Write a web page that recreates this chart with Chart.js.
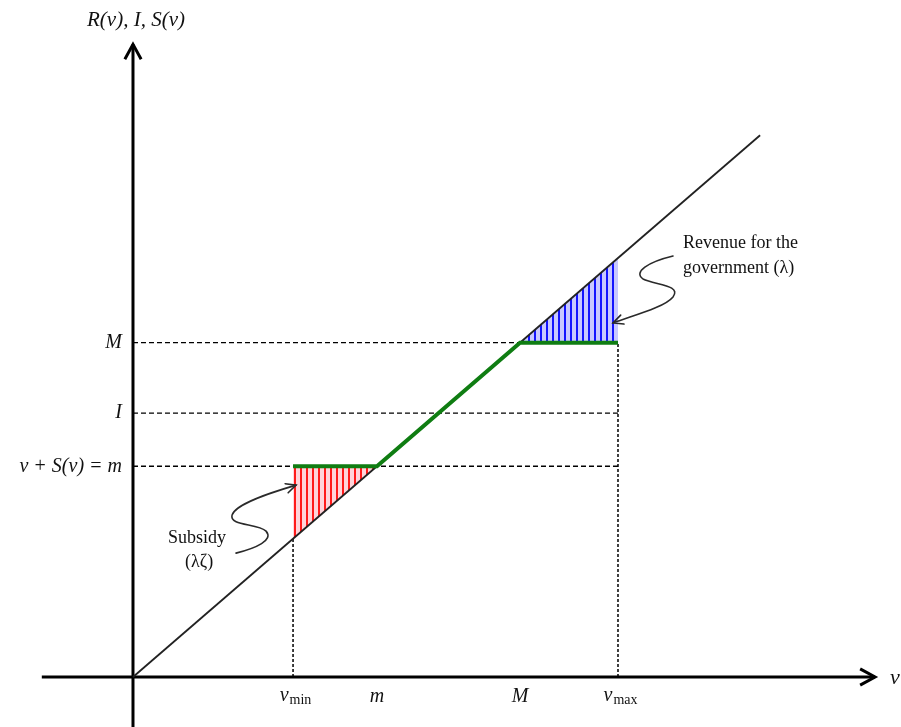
<!DOCTYPE html>
<html>
<head>
<meta charset="utf-8">
<script src="https://cdn.jsdelivr.net/npm/chart.js@4"></script>
<style>
html,body{margin:0;padding:0;background:#fff;}
#wrap{width:901px;height:727px;position:relative;}
</style>
</head>
<body>
<div id="wrap"><canvas id="c" width="901" height="727"></canvas></div>
<script>
// ---- data (model values) ----
const vMin = 3.3;      // v_min
const mVal = 5.03;     // m (lower bound)
const MVal = 7.98;     // M (upper bound)
const vMax = 10;       // v_max
const IVal = 6.3;      // I
const lineEnd = 12.93; // end of 45-degree line R(v)=v
const xAxisRange = [-1.88, 15.3];
const yAxisRange = [-1.3, 15.1];
const xScaleRange = [-2.742, 15.835];
const yScaleRange = [-1.193, 16.158];
const yTickLabels = [{v: MVal, t: 'M'}, {v: IVal, t: 'I'}, {v: mVal, t: 'v + S(v) = m'}];
const xTickLabels = [{v: vMin, t: 'v', sub: 'min'}, {v: mVal, t: 'm'}, {v: MVal, t: 'M'}, {v: vMax, t: 'v', sub: 'max'}];

function stripePattern(bg, fg) {
  const c = document.createElement('canvas');
  c.width = 6; c.height = 6;
  const g = c.getContext('2d');
  g.fillStyle = bg; g.fillRect(0, 0, 6, 6);
  g.fillStyle = fg; g.fillRect(0, 0, 2, 6);
  return g.createPattern(c, 'repeat');
}

const redPat = stripePattern('#ffd4da', '#ff1a1a');
const bluePat = stripePattern('#c8c8ff', '#1414ff');

function seg(data, opts) {
  return Object.assign({data: data, showLine: true, pointRadius: 0, borderColor: '#000', borderWidth: 1.3, fill: false}, opts);
}

const datasets = [
  // green: v + S(v) (capped)
  seg([{x: vMin, y: mVal}, {x: mVal, y: mVal}, {x: MVal, y: MVal}, {x: vMax, y: MVal}],
      {borderColor: '#0f7d12', borderWidth: 4, borderJoinStyle: 'miter'}),
  // 45-degree line
  seg([{x: 0, y: 0}, {x: lineEnd, y: lineEnd}], {borderColor: '#222', borderWidth: 1.8}),
  // dashed guide lines
  seg([{x: 0, y: MVal}, {x: vMax, y: MVal}], {borderDash: [5, 3]}),
  seg([{x: 0, y: IVal}, {x: vMax, y: IVal}], {borderDash: [5, 3]}),
  seg([{x: 0, y: mVal}, {x: vMax, y: mVal}], {borderDash: [5, 3]}),
  seg([{x: vMin, y: 0}, {x: vMin, y: vMin}], {borderDash: [3, 2], borderWidth: 1.5}),
  seg([{x: vMax, y: 0}, {x: vMax, y: MVal}], {borderDash: [3, 2], borderWidth: 1.5}),
  // hatched areas
  seg([{x: vMin, y: vMin}, {x: mVal, y: mVal}], {borderWidth: 0, fill: {value: mVal}, backgroundColor: redPat}),
  seg([{x: MVal, y: MVal}, {x: vMax, y: vMax}], {borderWidth: 0, fill: {value: MVal}, backgroundColor: bluePat}),
  // axes
  seg([{x: xAxisRange[0], y: 0}, {x: xAxisRange[1], y: 0}], {borderWidth: 3}),
  seg([{x: 0, y: yAxisRange[0]}, {x: 0, y: yAxisRange[1]}], {borderWidth: 3})
];

function arrowHead(ctx, tx, ty, ang, len, spread) {
  ctx.beginPath();
  ctx.moveTo(tx - len * Math.cos(ang - spread), ty - len * Math.sin(ang - spread));
  ctx.lineTo(tx, ty);
  ctx.lineTo(tx - len * Math.cos(ang + spread), ty - len * Math.sin(ang + spread));
  ctx.stroke();
}

const decor = {
  id: 'decor',
  afterDatasetsDraw(chart) {
    const ctx = chart.ctx;
    const xs = chart.scales.x, ys = chart.scales.y;
    const X = v => xs.getPixelForValue(v), Y = v => ys.getPixelForValue(v);
    const ox = X(0), oy = Y(0);
    ctx.save();
    // axis arrowheads
    ctx.strokeStyle = '#000'; ctx.lineWidth = 3; ctx.lineCap = 'butt'; ctx.lineJoin = 'miter';
    arrowHead(ctx, X(xAxisRange[1]), oy, 0, 17, 0.5);
    arrowHead(ctx, ox, Y(yAxisRange[1]), -Math.PI / 2, 17, 0.5);

    // curly annotation arrows
    ctx.strokeStyle = '#2a2a2a'; ctx.lineWidth = 1.6; ctx.lineCap = 'round';
    // subsidy
    let tx = X(vMin) + 3, ty = Y(4.58);
    ctx.beginPath();
    ctx.moveTo(tx - 60, ty + 68);
    ctx.bezierCurveTo(tx - 40, ty + 63, tx - 22, ty + 55, tx - 30, ty + 46);
    ctx.bezierCurveTo(tx - 38, ty + 38, tx - 67, ty + 41, tx - 64, ty + 30);
    ctx.bezierCurveTo(tx - 61, ty + 19, tx - 27, ty + 8, tx, ty);
    ctx.stroke();
    arrowHead(ctx, tx, ty, Math.atan2(-9, 27), 11, 0.45);
    // revenue
    tx = X(vMax) - 5; ty = Y(8.45);
    ctx.beginPath();
    ctx.moveTo(tx + 60, ty - 67);
    ctx.bezierCurveTo(tx + 35, ty - 61, tx + 20, ty - 51, tx + 30, ty - 44);
    ctx.bezierCurveTo(tx + 42, ty - 38, tx + 69, ty - 38, tx + 60, ty - 26);
    ctx.bezierCurveTo(tx + 52, ty - 16, tx + 22, ty - 8, tx, ty);
    ctx.stroke();
    arrowHead(ctx, tx, ty, Math.atan2(8, -22), 11, 0.45);

    // texts
    ctx.fillStyle = '#111';
    ctx.textBaseline = 'middle';
    ctx.font = 'italic 20px "Liberation Serif"';
    ctx.textAlign = 'right';
    yTickLabels.forEach(l => ctx.fillText(l.t, ox - 11, Y(l.v)));
    // x labels
    xTickLabels.forEach(l => {
      const cx = X(l.v), cy = oy + 20;
      if (l.sub) {
        ctx.font = 'italic 20px "Liberation Serif"';
        const w1 = ctx.measureText(l.t).width;
        ctx.font = '14px "Liberation Serif"';
        const w2 = ctx.measureText(l.sub).width;
        const start = cx - (w1 + w2) / 2 + 2;
        ctx.textAlign = 'left';
        ctx.font = 'italic 20px "Liberation Serif"';
        ctx.fillText(l.t, start, cy - 1);
        ctx.font = '14px "Liberation Serif"';
        ctx.fillText(l.sub, start + w1 + 1, cy + 3);
      } else {
        ctx.textAlign = 'center';
        ctx.font = 'italic 20px "Liberation Serif"';
        ctx.fillText(l.t, cx, cy);
      }
    });
    // axis titles
    ctx.textAlign = 'center';
    ctx.font = 'italic 21px "Liberation Serif"';
    ctx.fillText('R(v), I, S(v)', ox + 3, 20);
    ctx.textAlign = 'left';
    ctx.font = 'italic 22px "Liberation Serif"';
    ctx.fillText('v', X(xAxisRange[1]) + 15, oy + 1);
    // annotations
    ctx.font = '18px "Liberation Serif"';
    ctx.textAlign = 'center';
    ctx.fillText('Subsidy', X(vMin) - 96, Y(3.32));
    ctx.fillText('(λζ)', X(vMin) - 94, Y(2.74));
    ctx.textAlign = 'left';
    ctx.fillText('Revenue for the', X(vMax) + 65, Y(10.36));
    ctx.fillText('government (λ)', X(vMax) + 65, Y(9.76));
    ctx.restore();
  }
};

new Chart(document.getElementById('c'), {
  type: 'scatter',
  data: {datasets: datasets},
  options: {
    responsive: false,
    animation: false,
    events: [],
    layout: {padding: 0},
    plugins: {legend: {display: false}, tooltip: {enabled: false}},
    scales: {
      x: {type: 'linear', display: false, min: xScaleRange[0], max: xScaleRange[1]},
      y: {type: 'linear', display: false, min: yScaleRange[0], max: yScaleRange[1]}
    }
  },
  plugins: [decor]
});
</script>
</body>
</html>
